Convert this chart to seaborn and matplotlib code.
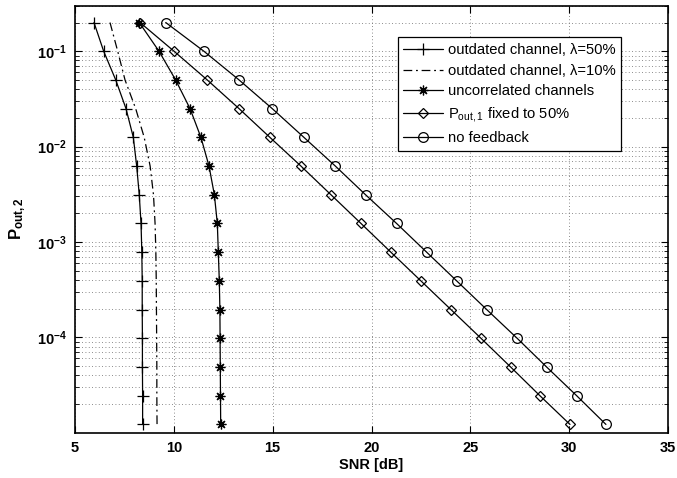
import numpy as np
import pandas as pd
import matplotlib
matplotlib.use("Agg")
import matplotlib.pyplot as plt
import seaborn as sns
from matplotlib.ticker import LogLocator, NullFormatter, FixedLocator

# outage probability levels (y values, shared by all curves)
p_out2 = [0.2, 0.1, 0.05, 0.025, 0.0125, 0.00625, 0.003125, 0.0015625,
          7.8125e-4, 3.90625e-4, 1.953125e-4, 9.765625e-5, 4.8828125e-5,
          2.44140625e-5, 1.220703125e-5]

snr_outdated_50 = [5.96, 6.45, 7.06, 7.58, 7.95, 8.12, 8.25, 8.34,
                   8.38, 8.40, 8.40, 8.41, 8.41, 8.42, 8.42]
snr_outdated_10 = [6.77, 7.16, 7.53, 8.07, 8.50, 8.80, 8.97, 9.05,
                   9.09, 9.11, 9.12, 9.13, 9.14, 9.14, 9.15]
snr_uncorrelated = [8.25, 9.25, 10.09, 10.82, 11.37, 11.78, 12.05, 12.20,
                    12.25, 12.30, 12.33, 12.34, 12.35, 12.36, 12.37]
snr_fixed50 = [8.29, 10.01, 11.69, 13.30, 14.86, 16.43, 17.95, 19.47,
               20.98, 22.50, 24.02, 25.54, 27.04, 28.52, 30.04]
snr_nofeedback = [9.59, 11.52, 13.30, 14.98, 16.58, 18.17, 19.70, 21.27,
                  22.79, 24.31, 25.83, 27.37, 28.86, 30.38, 31.86]

labels = ['outdated channel, \u03bb=50%',
          'outdated channel, \u03bb=10%',
          'uncorrelated channels',
          r'P$_{\mathregular{out,1}}$ fixed to 50%',
          'no feedback']

x_ticks = [5, 10, 15, 20, 25, 30, 35]
y_ticks = [1e-4, 1e-3, 1e-2, 1e-1]

sns.set_style("white")
plt.rcParams['font.family'] = ['Liberation Sans', 'DejaVu Sans']
plt.rcParams['mathtext.fontset'] = 'custom'
plt.rcParams['mathtext.rm'] = 'Liberation Sans'
plt.rcParams['mathtext.bf'] = 'Liberation Sans:bold'
plt.rcParams['mathtext.it'] = 'Liberation Sans:italic'
plt.rcParams['text.color'] = 'k'
plt.rcParams['axes.labelcolor'] = 'k'
plt.rcParams['xtick.color'] = 'k'
plt.rcParams['ytick.color'] = 'k'

fig = plt.figure(figsize=(6.77, 4.78), dpi=100)
ax = fig.add_axes([0.1108, 0.0948, 0.8759, 0.8932])

series = [
    (snr_outdated_50, dict(marker='+', linestyle='-', markersize=8)),
    (snr_outdated_10, dict(marker=None, linestyle=(0, (7, 3, 1.5, 3)))),
    (snr_uncorrelated, dict(marker=(8, 2, 0), linestyle='-', markersize=7)),
    (snr_fixed50, dict(marker='D', linestyle='-', markersize=5.5)),
    (snr_nofeedback, dict(marker='o', linestyle='-', markersize=7)),
]

for (xs, style), lab in zip(series, labels):
    df = pd.DataFrame({'snr': xs, 'p': p_out2})
    sns.lineplot(data=df, x='snr', y='p', ax=ax, sort=False, estimator=None,
                 color='k', linewidth=0.9, label=lab,
                 markerfacecolor='none', markeredgecolor='k',
                 markeredgewidth=0.9, **style)

ax.set_yscale('log')
ax.set_xlim(5, 35)
ax.set_ylim(1.0e-5, 0.3)
ax.xaxis.set_major_locator(FixedLocator(x_ticks))
ax.yaxis.set_major_locator(FixedLocator(y_ticks))
ax.yaxis.set_minor_locator(LogLocator(base=10, subs=np.arange(2, 10), numticks=20))
ax.yaxis.set_minor_formatter(NullFormatter())

grid_kw = dict(color='0.4', linestyle=(0, (1, 3)), linewidth=0.6)
ax.grid(True, which='major', axis='both', **grid_kw)
ax.grid(True, which='minor', axis='y', **grid_kw)
ax.set_axisbelow(True)

ax.tick_params(axis='both', which='both', direction='in', top=True, right=True,
               bottom=True, left=True, colors='k')
ax.tick_params(axis='both', which='major', length=5, width=0.8, labelsize=10.5, pad=6)
ax.tick_params(axis='y', which='minor', length=3, width=0.6)
for lbl in ax.get_xticklabels() + ax.get_yticklabels():
    lbl.set_fontweight('bold')
    lbl.set_color('k')
for sp in ax.spines.values():
    sp.set_visible(True)
    sp.set_color('k')
    sp.set_linewidth(1.2)

ax.set_xlabel('SNR [dB]', fontsize=10.5, fontweight='bold', labelpad=2, color='k')
ax.set_ylabel(r'$\mathbf{P_{out,2}}$', fontsize=12, labelpad=6, color='k')

leg = ax.legend(loc='upper left', bbox_to_anchor=(0.544, 0.926), fontsize=10.6,
                frameon=True, fancybox=False, edgecolor='k', framealpha=1,
                handlelength=2.7, handletextpad=0.3, borderpad=0.4,
                labelspacing=0.45, borderaxespad=0)
leg.get_frame().set_linewidth(0.9)
for t in leg.get_texts():
    t.set_color('k')

fig.savefig('out.png', dpi=100)
